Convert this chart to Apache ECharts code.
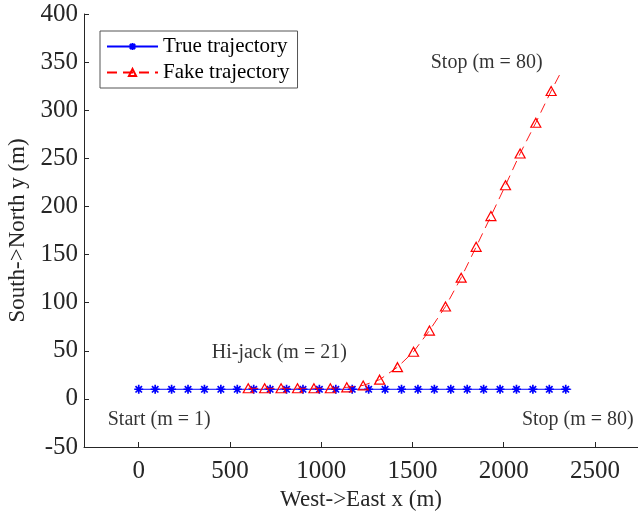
<!DOCTYPE html>
<html>
<head>
<meta charset="utf-8">
<script src="https://cdn.jsdelivr.net/npm/echarts@6/dist/echarts.min.js"></script>
<style>html,body{margin:0;padding:0;background:#fff;}#c{width:638px;height:514px;}</style>
</head>
<body>
<div id="c"></div>
<script>
// True trajectory (marker points every 3rd step, plus final point m = 80)
const trueX = [0, 90, 180, 270, 360, 450, 540, 630, 720, 810, 900, 990, 1080, 1170, 1260, 1350, 1440, 1530, 1620, 1710, 1800, 1890, 1980, 2070, 2160, 2250, 2340, 2370];
const trueY = [10, 10, 10, 10, 10, 10, 10, 10, 10, 10, 10, 10, 10, 10, 10, 10, 10, 10, 10, 10, 10, 10, 10, 10, 10, 10, 10, 10];
// Fake trajectory (from hi-jack m = 21, marker points every 3rd step, plus final point m = 80)
const fakeX = [600, 690, 780, 870, 960, 1050, 1140, 1230, 1320, 1418, 1506, 1593, 1681, 1767, 1849, 1930, 2010, 2090, 2176, 2260, 2315];
const fakeY = [11, 11, 11, 11, 11, 11, 12, 14, 20, 33, 49, 71, 96, 126, 158, 190, 222, 255, 287, 320, 340];
const xTicks = [0, 500, 1000, 1500, 2000, 2500];
// Annotations: [x, y, text]
const notes = [
  [1600, 349, 'Stop (m = 80)'],
  [400, 48, 'Hi-jack (m = 21)'],
  [-170, -22, 'Start (m = 1)'],
  [2100, -22, 'Stop (m = 80)']
];

const serif = 'Liberation Serif';
const axisCol = '#262626';
const star = 'path://M0,-5L0,5M-5,0L5,0M-3.6,-3.6L3.6,3.6M-3.6,3.6L3.6,-3.6';

function build(xs, ys) {
  return xs.map((x, i) => {
    const d = { value: [x, ys[i]] };
    if (i === xs.length - 1) d.symbol = 'none';
    return d;
  });
}

const chart = echarts.init(document.getElementById('c'), null, { renderer: 'canvas' });
chart.setOption({
  animation: false,
  backgroundColor: '#fff',
  grid: { left: 84, right: 0, top: 14, bottom: 67, containLabel: false, outerBoundsMode: 'none' },
  legend: {
    left: 100, top: 31, orient: 'vertical',
    itemWidth: 51, itemHeight: 9, itemGap: 5,
    padding: [5, 8, 5, 6],
    backgroundColor: '#fff', borderColor: '#555', borderWidth: 1,
    textStyle: { fontFamily: serif, fontSize: 21, color: '#000', lineHeight: 21 },
    data: ['True trajectory', 'Fake trajectory']
  },
  xAxis: {
    type: 'value', min: -300, max: 2736,
    name: 'West->East x (m)', nameLocation: 'middle', nameGap: 38,
    nameTextStyle: { fontFamily: serif, fontSize: 23, color: axisCol },
    axisLine: { show: true, onZero: false, lineStyle: { color: axisCol, width: 1 } },
    axisTick: { show: true, inside: true, length: 5, customValues: xTicks, lineStyle: { color: axisCol } },
    axisLabel: { customValues: xTicks, formatter: v => String(v), fontFamily: serif, fontSize: 25, color: axisCol, margin: 12 },
    splitLine: { show: false }
  },
  yAxis: {
    type: 'value', min: -50, max: 400, interval: 50,
    name: 'South->North y (m)', nameLocation: 'middle', nameGap: 50,
    nameTextStyle: { fontFamily: serif, fontSize: 23, color: axisCol },
    axisLine: { show: true, onZero: false, lineStyle: { color: axisCol, width: 1 } },
    axisTick: { show: true, inside: true, length: 5, lineStyle: { color: axisCol } },
    axisLabel: { fontFamily: serif, fontSize: 25, color: axisCol, margin: 6 },
    splitLine: { show: false }
  },
  series: [
    {
      name: 'True trajectory', type: 'line',
      data: build(trueX, trueY),
      symbol: star, symbolSize: 9, showAllSymbol: true,
      lineStyle: { color: '#0000ff', width: 1 },
      itemStyle: { color: '#0000ff', borderColor: '#0000ff', borderWidth: 1.7 },
      z: 2
    },
    {
      name: 'Fake trajectory', type: 'line',
      data: build(fakeX, fakeY),
      symbol: 'triangle', symbolSize: [10, 9], showAllSymbol: true,
      lineStyle: { color: '#ff0000', width: 0.9, type: [10, 6] },
      itemStyle: { color: 'rgba(255,255,255,0)', borderColor: '#ff0000', borderWidth: 1.2 },
      z: 3
    },
    {
      name: 'notes', type: 'scatter', symbolSize: 0,
      data: notes.map(n => ({ value: [n[0], n[1]], name: n[2] })),
      label: {
        show: true, position: 'right', distance: 0,
        formatter: p => p.name,
        fontFamily: serif, fontSize: 20, color: '#000'
      },
      silent: true, z: 4
    }
  ]
});
</script>
</body>
</html>
